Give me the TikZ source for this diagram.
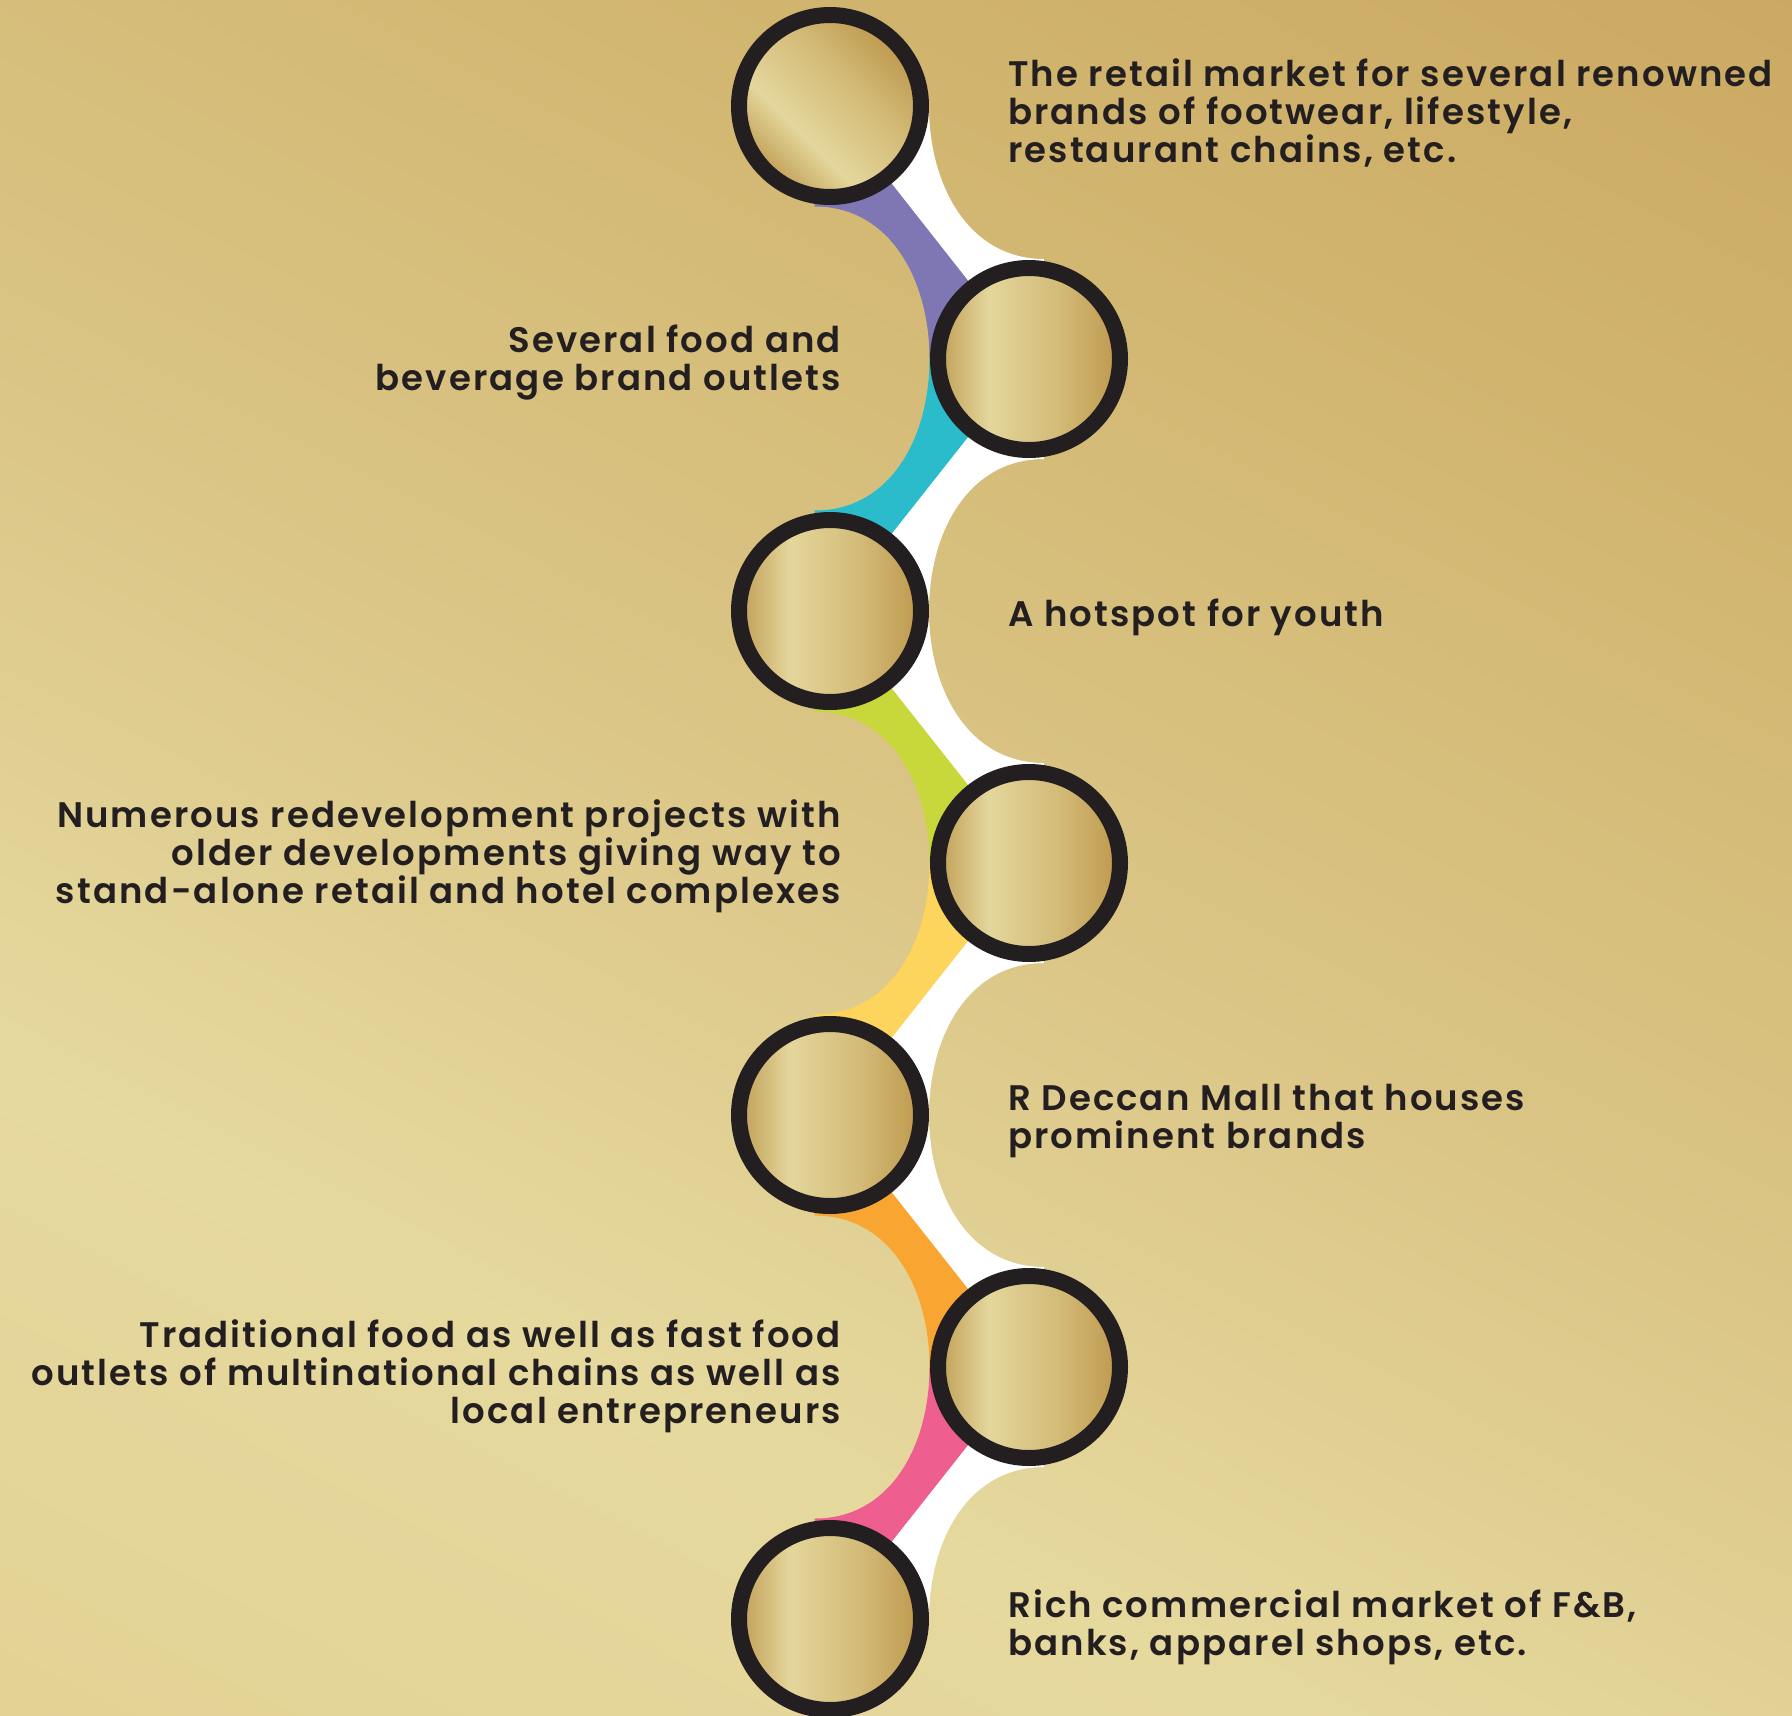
\documentclass[tikz,border=0pt]{standalone}
\usepackage{fontspec}
\IfFontExistsTF{Poppins SemiBold}{\setmainfont{Poppins SemiBold}[LetterSpace=5.9]}{%
  \IfFontExistsTF{Poppins Medium}{\setmainfont{Poppins Medium}[LetterSpace=7]}{\setmainfont{Poppins}[LetterSpace=7]}}
\usetikzlibrary{calc}
\definecolor{ringc}{HTML}{231F20}
\definecolor{cpurple}{HTML}{7F77B4}
\definecolor{ccyan}{HTML}{2ABCCB}
\definecolor{clime}{HTML}{C8D73A}
\definecolor{cyellow}{HTML}{FDD45C}
\definecolor{corange}{HTML}{F8A631}
\definecolor{cpink}{HTML}{EE5F90}
\definecolor{gA}{HTML}{C09E55}
\definecolor{gL}{HTML}{E4D69C}
\definecolor{gM}{HTML}{D3BB78}
\definecolor{gD}{HTML}{BE984C}
\definecolor{b0}{HTML}{E0CF90}
\definecolor{b1}{HTML}{E2D294}
\definecolor{b2}{HTML}{E6D99E}
\definecolor{b3}{HTML}{DBC687}
\definecolor{b4}{HTML}{D1B56F}
\definecolor{b5}{HTML}{CBA962}
\definecolor{b6}{HTML}{C9A55D}
\pgfdeclarehorizontalshading{goldh}{100bp}{color(0bp)=(gA); color(25bp)=(gA); color(39bp)=(gL); color(58bp)=(gM); color(75bp)=(gD); color(100bp)=(gD)}
\pgfdeclarehorizontalshading{bgshade}{100bp}{color(0bp)=(b0); color(16bp)=(b1); color(33bp)=(b2); color(50bp)=(b3); color(70bp)=(b4); color(84bp)=(b5); color(100bp)=(b6)}
\pgfdeclarelayer{back}
\pgfdeclarelayer{links}
\pgfsetlayers{back,links,main}
\newcommand\lnstrut{\rule{0pt}{30pt}}
% down-right link: #1 top (left), #2 bottom (right), #3 colour
\newcommand\lnkDR[3]{%
  \fill[white] (#1.center) -- ($(#1.center)+(99,0)$) .. controls ($(#1.center)+(99,80)$) and ($(#2.center)+(-60,-100)$) .. ($(#2.center)+(15,-100)$) -- (#2.center) -- cycle;
  \filldraw[fill=#3, draw=#3, line width=1pt] (#1.center) -- ($(#1.center)+(-15,100)$) .. controls ($(#1.center)+(60,100)$) and ($(#2.center)+(-99,-80)$) .. ($(#2.center)+(-99,0)$) -- (#2.center) -- cycle;}
% down-left link: #1 top (right), #2 bottom (left), #3 colour
\newcommand\lnkDL[3]{%
  \fill[white] (#1.center) -- ($(#1.center)+(15,100)$) .. controls ($(#1.center)+(-60,100)$) and ($(#2.center)+(99,-80)$) .. ($(#2.center)+(99,0)$) -- (#2.center) -- cycle;
  \filldraw[fill=#3, draw=#3, line width=1pt] (#1.center) -- ($(#1.center)+(-99,0)$) .. controls ($(#1.center)+(-99,80)$) and ($(#2.center)+(60,-100)$) .. ($(#2.center)+(-15,-100)$) -- (#2.center) -- cycle;}
\begin{document}
\begin{tikzpicture}[x=1pt,y=-1pt,
  disc/.style={circle, minimum size=182pt, inner sep=0pt, draw=ringc, line width=16pt, shade, shading=goldh},
  lbl/.style={inner sep=0pt, text=ringc, font=\fontsize{35.5}{38.3}\selectfont},
  lbll/.style={lbl, anchor=north west, align=left},
  lblr/.style={lbl, anchor=north east, align=right}]
\useasboundingbox (0,0) rectangle (1792,1716);
\begin{pgfonlayer}{back}
\shade[shading=bgshade, shading angle=63] (0,0) rectangle (1792,1716);
\end{pgfonlayer}
\node[disc, shading angle=45] (c1) at (830,106) {};
\node[disc] (c2) at (1029,359) {};
\node[disc] (c3) at (830,611) {};
\node[disc] (c4) at (1029,863) {};
\node[disc] (c5) at (830,1115) {};
\node[disc] (c6) at (1029,1367) {};
\node[disc] (c7) at (830,1619) {};
\begin{pgfonlayer}{links}
\lnkDR{c1}{c2}{cpurple}
\lnkDL{c2}{c3}{ccyan}
\lnkDR{c3}{c4}{clime}
\lnkDL{c4}{c5}{cyellow}
\lnkDR{c5}{c6}{corange}
\lnkDL{c6}{c7}{cpink}
\end{pgfonlayer}
\node[lbll] (t1) at (1008,56) {\lnstrut The retail market for several renowned\\brands of footwear, lifestyle,\\restaurant chains, etc.};
\node[lblr] (t2) at (841,322) {\lnstrut Several food and\\beverage brand outlets};
\node[lbll] (t3) at (1008,596) {\lnstrut A hotspot for youth};
\node[lblr] (t4) at (841,797) {\lnstrut Numerous redevelopment projects with\\older developments giving way to\\stand-alone retail and hotel complexes};
\node[lbll] (t5) at (1008,1080) {\lnstrut R Deccan Mall that houses\\prominent brands};
\node[lblr] (t6) at (841,1317) {\lnstrut Traditional food as well as fast food\\outlets of multinational chains as well as\\local entrepreneurs};
\node[lbll] (t7) at (1008,1587) {\lnstrut Rich commercial market of F\&B,\\banks, apparel shops, etc.};
\end{tikzpicture}
\end{document}
